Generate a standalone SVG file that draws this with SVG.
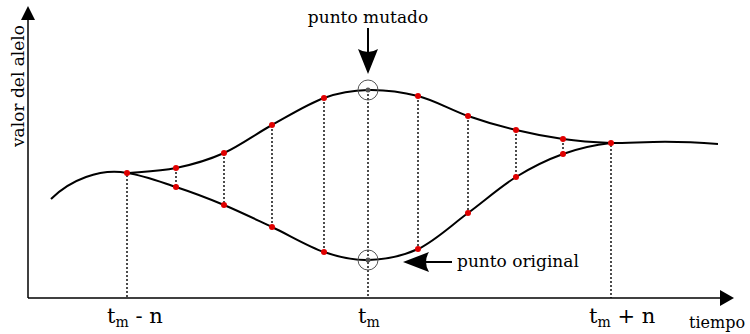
<svg xmlns="http://www.w3.org/2000/svg" width="750" height="334" viewBox="0 0 750 334">
<style>
.curve{fill:none;stroke:#000;stroke-width:2}
.axis{fill:none;stroke:#000;stroke-width:1.5}
.dot{stroke:#000;stroke-width:1.4;stroke-dasharray:2,2;fill:none}
.pt{fill:#e00000}
.ring{fill:none;stroke:#555;stroke-width:1}
.core{fill:#555}
text{font-family:"DejaVu Serif","Liberation Serif",serif;fill:#000}
.lbl{font-size:17px}
.small{font-size:16px}
.big{font-size:21px}
.sub{font-size:14px}
</style>
<g id="axes">
<line class="axis" x1="28" y1="298" x2="724" y2="298"/>
<polygon points="734,298 720,290 720,306" fill="#000"/>
<line class="axis" x1="28" y1="298" x2="28" y2="18"/>
<polygon points="28,6 21,20 35,20" fill="#000"/>
<text class="lbl" transform="translate(24,147) rotate(-90)">valor del alelo</text>
<text class="small" x="689" y="328">tiempo</text>
</g>
<g id="connectors">
<line class="dot" x1="127" y1="175" x2="127" y2="298"/>
<line class="dot" x1="176" y1="168" x2="176" y2="187"/>
<line class="dot" x1="224" y1="153" x2="224" y2="205"/>
<line class="dot" x1="272" y1="125" x2="272" y2="227"/>
<line class="dot" x1="324" y1="98" x2="324" y2="252"/>
<line class="dot" x1="368" y1="90" x2="368" y2="298"/>
<line class="dot" x1="418" y1="96" x2="418" y2="249"/>
<line class="dot" x1="468" y1="116" x2="468" y2="213"/>
<line class="dot" x1="516" y1="130" x2="516" y2="177"/>
<line class="dot" x1="563" y1="139" x2="563" y2="154"/>
<line class="dot" x1="611" y1="145" x2="611" y2="298"/>
</g>
<g id="curves">
<path class="curve" d="M51,199 C70,180 100,168 127,173"/>
<path class="curve" d="M127,173 C143.3,171.7 159.8,171.3 176,168 C192.2,164.7 208,160.2 224,153 C240,145.8 255.3,134.2 272,125 C288.7,115.8 308,103.8 324,98 C340,92.2 352.3,90.3 368,90 C383.7,89.7 401.3,91.7 418,96 C434.7,100.3 451.7,110.3 468,116 C484.3,121.7 500.2,126.2 516,130 C531.8,133.8 547.2,136.8 563,139 C578.8,141.2 594.8,142.3 611,143"/>
<path class="curve" d="M127,173 C143.3,175.3 159.8,181.7 176,187 C192.2,192.3 208,198.3 224,205 C240,211.7 255.3,219.2 272,227 C288.7,234.8 308,246.5 324,252 C340,257.5 352.3,260.5 368,260 C383.7,259.5 401.3,256.8 418,249 C434.7,241.2 451.7,225 468,213 C484.3,201 500.2,186.8 516,177 C531.8,167.2 547.2,159.7 563,154 C578.8,148.3 594.8,144.8 611,143"/>
<path class="curve" d="M611,143 C630,142.8 648,141.8 665,141.8 C685,141.8 705,143 718,144"/>
</g>
<g id="points">
<circle class="pt" cx="127" cy="173" r="3"/>
<circle class="pt" cx="176" cy="168" r="3"/>
<circle class="pt" cx="224" cy="153" r="3"/>
<circle class="pt" cx="272" cy="125" r="3"/>
<circle class="pt" cx="324" cy="98" r="3"/>
<circle class="pt" cx="418" cy="96" r="3"/>
<circle class="pt" cx="468" cy="116" r="3"/>
<circle class="pt" cx="516" cy="130" r="3"/>
<circle class="pt" cx="563" cy="139" r="3"/>
<circle class="pt" cx="611" cy="143" r="3"/>
<circle class="pt" cx="176" cy="187" r="3"/>
<circle class="pt" cx="224" cy="205" r="3"/>
<circle class="pt" cx="272" cy="227" r="3"/>
<circle class="pt" cx="324" cy="252" r="3"/>
<circle class="pt" cx="418" cy="249" r="3"/>
<circle class="pt" cx="468" cy="213" r="3"/>
<circle class="pt" cx="516" cy="177" r="3"/>
<circle class="pt" cx="563" cy="154" r="3"/>
</g>
<g id="mutated">
<circle class="ring" cx="368" cy="90" r="10"/>
<circle class="core" cx="368" cy="90" r="2.5"/>
<text class="lbl" x="368" y="23" text-anchor="middle">punto mutado</text>
<line x1="368" y1="28" x2="368" y2="54" stroke="#000" stroke-width="2"/>
<path d="M368,74 L358,49 Q368,55 378,49 Z" fill="#000"/>
</g>
<g id="original">
<circle class="ring" cx="368" cy="260" r="10"/>
<circle class="core" cx="368" cy="260" r="2.5"/>
<text class="lbl" x="457" y="267">punto original</text>
<line x1="452" y1="262" x2="422" y2="262" stroke="#000" stroke-width="2"/>
<path d="M403,262 L429,252 Q423,262 429,272 Z" fill="#000"/>
</g>
<g id="labels">
<text class="big" x="107" y="323">t<tspan class="sub" dy="4">m</tspan><tspan dy="-4"> - n</tspan></text>
<text class="big" x="358" y="323">t<tspan class="sub" dy="4">m</tspan></text>
<text class="big" x="589" y="323">t<tspan class="sub" dy="4">m</tspan><tspan dy="-4"> + n</tspan></text>
</g>
</svg>
